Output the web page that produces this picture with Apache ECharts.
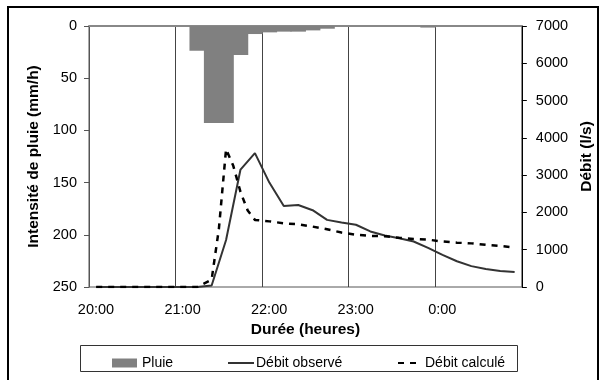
<!DOCTYPE html>
<html>
<head>
<meta charset="utf-8">
<script src="https://cdn.jsdelivr.net/npm/echarts@6/dist/echarts.min.js"></script>
<style>
  html, body { margin: 0; padding: 0; background: #fff; }
  #chart { width: 603px; height: 380px; }
</style>
</head>
<body>
<div id="chart"></div>
<script>
// minutes since 20:00
var rainTime = [75, 85, 95, 105, 115, 125, 135, 145, 155, 165, 235]
var rainVal = [23.7, 93, 93, 27.8, 7.7, 6.1, 5.4, 5.4, 4.2, 2.6, 1.5]

var obsTime = [5, 15, 25, 35, 45, 55, 65, 75, 85, 95, 105, 115, 125, 135, 145, 155, 165, 175, 185, 195, 205, 215, 225, 235, 245, 255, 265, 275, 285, 295]
var obsVal = [0, 0, 0, 0, 0, 0, 0, 0, 40, 1260, 3150, 3590, 2800, 2170, 2200, 2060, 1800, 1730, 1670, 1490, 1380, 1310, 1220, 1050, 860, 690, 560, 480, 430, 400]

var calTime = [5, 15, 25, 35, 45, 55, 65, 75, 85, 90, 95, 100, 105, 110, 115, 125, 135, 145, 155, 165, 175, 185, 195, 205, 215, 225, 235, 245, 255, 265, 275, 285, 295]
var calVal = [0, 0, 0, 0, 0, 0, 0, 0, 200, 1550, 3700, 3250, 2550, 2050, 1800, 1760, 1710, 1680, 1620, 1550, 1460, 1400, 1370, 1360, 1320, 1290, 1270, 1220, 1190, 1170, 1130, 1100, 1060]

var hourTicks = ['20:00', '21:00', '22:00', '23:00', '0:00', '']

function pairs(xs, ys) {
  return xs.map(function(x, i) { return [x, ys[i]] })
}

var font = 'Liberation Sans, Arial, sans-serif'
var tickFont = { fontFamily: font, fontSize: 14.5, color: '#000' }
var nameFont = { fontFamily: font, fontSize: 15.5, fontWeight: 'bold', color: '#000' }
function legendAt(left, width, name, extra, textPad) {
  return {
    left: left, top: 351, itemWidth: width, itemHeight: 9, itemGap: 0,
    textStyle: { fontFamily: font, fontSize: 14, color: '#000', padding: [0, 0, 0, textPad] },
    data: [Object.assign({ name: name }, extra)]
  }
}
var chart = echarts.init(document.getElementById('chart'))
var option = {
  animation: false,
  textStyle: { fontFamily: font, color: '#000' },
  grid: { left: 89, right: 78, top: 26, bottom: 93, show: true, borderColor: '#555', borderWidth: 1 },
  graphic: [
    { type: 'rect', shape: { x: 8, y: 7, width: 590, height: 400 }, style: { fill: 'none', stroke: '#000', lineWidth: 2 }, silent: true },
    { type: 'rect', shape: { x: 80.5, y: 345.5, width: 437, height: 26 }, style: { fill: 'none', stroke: '#333', lineWidth: 1 }, silent: true }
  ],
  legend: [
    legendAt(107, 25, 'Pluie', { icon: 'rect' }, 0),
    legendAt(222, 26, 'Débit observé', { itemStyle: { opacity: 0 } }, -3),
    legendAt(392, 22, 'Débit calculé', { itemStyle: { opacity: 0 } }, 0)
  ],
  xAxis: {
    type: 'value', min: 0, max: 300, interval: 60,
    name: 'Durée (heures)', nameLocation: 'middle', nameGap: 32,
    nameTextStyle: nameFont,
    axisLine: { show: true, lineStyle: { color: '#888', width: 2 } },
    axisTick: { show: false },
    axisLabel: Object.assign({
      margin: 15, padding: [0, 0, 0, 14],
      formatter: function(v) { return hourTicks[Math.round(v / 60)] }
    }, tickFont),
    splitLine: { show: true, lineStyle: { color: '#444', width: 1 } }
  },
  yAxis: [
    {
      type: 'value', inverse: true, min: 0, max: 250, interval: 50,
      name: 'Intensité de pluie (mm/h)', nameLocation: 'middle', nameGap: 44, nameRotate: 90,
      nameTextStyle: nameFont,
      axisLine: { show: true, lineStyle: { color: '#555', width: 1 } },
      axisTick: { show: true, inside: false, length: 5, lineStyle: { color: '#555' } },
      axisLabel: Object.assign({ margin: 12 }, tickFont),
      splitLine: { show: false }
    },
    {
      type: 'value', min: 0, max: 7000, interval: 1000, position: 'right',
      name: 'Débit (l/s)', nameLocation: 'middle', nameGap: 52, nameRotate: 90,
      nameTextStyle: nameFont,
      axisLine: { show: true, lineStyle: { color: '#000', width: 1 } },
      axisTick: { show: true, inside: false, length: 5, lineStyle: { color: '#000' } },
      axisLabel: Object.assign({ margin: 14, formatter: function(v) { return String(v) } }, tickFont),
      splitLine: { show: false }
    }
  ],
  series: [
    {
      name: 'Pluie', type: 'bar', yAxisIndex: 0, barWidth: 15.5,
      itemStyle: { color: '#808080', borderWidth: 0 },
      data: pairs(rainTime, rainVal)
    },
    {
      name: 'Débit observé', type: 'line', yAxisIndex: 1, symbol: 'none',
      lineStyle: { color: '#333', width: 2 }, itemStyle: { color: '#333' },
      data: pairs(obsTime, obsVal)
    },
    {
      name: 'Débit calculé', type: 'line', yAxisIndex: 1, symbol: 'none',
      lineStyle: { color: '#000', width: 2.5, type: [6, 6] }, itemStyle: { color: '#000' },
      data: pairs(calTime, calVal)
    }
  ]
}
chart.setOption(option)
</script>
</body>
</html>
